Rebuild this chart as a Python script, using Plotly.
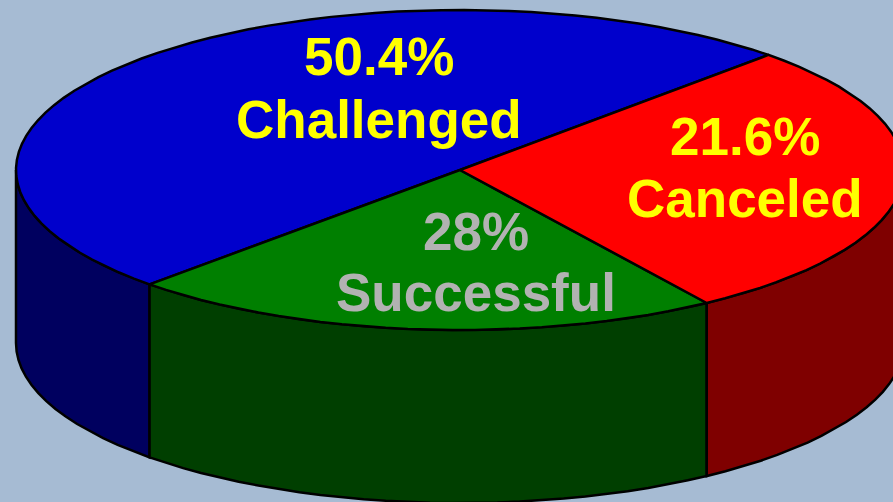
import numpy as np
import plotly.graph_objects as go

# Values
categories = ["Challenged", "Successful", "Canceled"]
drawn_shares = [49.9, 21.7, 28.4]   # wedge sizes as drawn in the picture
label_percent = ["50.4%", "28%", "21.6%"]
top_colors = ["#0000CC", "#007F00", "#FF0000"]
side_colors = ["#00005F", "#003F00", "#7F0000"]
label_colors = ["#FFFF00", "#B2B2B2", "#FFFF00"]
label_x = [379, 476, 745]
label_y = [[56, 119], [231, 292], [136, 198]]

BG = "#A6BBD3"
CX, CY, RX, RY, DEPTH = 460, 170, 444, 160, 173
START_DEG = 46.0

W, H = 893, 502


def rim(t0, t1, dy=0.0, n_per_deg=0.35):
    n = max(2, int(abs(t1 - t0) * n_per_deg) + 1)
    t = np.radians(np.linspace(t0, t1, n))
    return CX + RX * np.cos(t), CY - RY * np.sin(t) + dy


fig = go.Figure()
angles = START_DEG + np.concatenate([[0], np.cumsum(drawn_shares)]) * 3.6

# side walls: only the front half of the cylinder (180..360 deg) is visible
for i in range(len(categories)):
    a0, a1 = max(angles[i], 180.0), min(angles[i + 1], 360.0)
    if a1 <= a0:
        continue
    xt, yt = rim(a0, a1)
    xb, yb = rim(a1, a0, DEPTH)
    fig.add_trace(go.Scatter(
        x=np.r_[xt, xb, xt[0]], y=np.r_[yt, yb, yt[0]],
        mode="lines", fill="toself", fillcolor=side_colors[i],
        line=dict(color="#000000", width=2.5), hoverinfo="skip", showlegend=False))

# top wedges
for i in range(len(categories)):
    xr, yr = rim(angles[i], angles[i + 1])
    fig.add_trace(go.Scatter(
        x=np.r_[CX, xr, CX], y=np.r_[CY, yr, CY],
        mode="lines", fill="toself", fillcolor=top_colors[i],
        line=dict(color="#000000", width=2.5), hoverinfo="skip", showlegend=False))

# labels
for i, name in enumerate(categories):
    for txt, y in zip([label_percent[i], name], label_y[i]):
        fig.add_annotation(x=label_x[i], y=y, text=txt, showarrow=False,
                           xanchor="center", yanchor="middle",
                           font=dict(family="Liberation Sans", size=53,
                                     color=label_colors[i], weight="bold"))

fig.update_layout(
    width=W, height=H, margin=dict(l=0, r=0, t=0, b=0),
    paper_bgcolor=BG, plot_bgcolor=BG, showlegend=False,
    xaxis=dict(range=[0, W], visible=False, fixedrange=True),
    yaxis=dict(range=[H, 0], visible=False, fixedrange=True),
)
fig.write_html(
    "out.html",
    config=dict(displayModeBar=False),
    post_script="document.documentElement.style.overflow='hidden';"
                "document.body.style.margin='0';"
                "document.body.style.background='%s';" % BG,
)
